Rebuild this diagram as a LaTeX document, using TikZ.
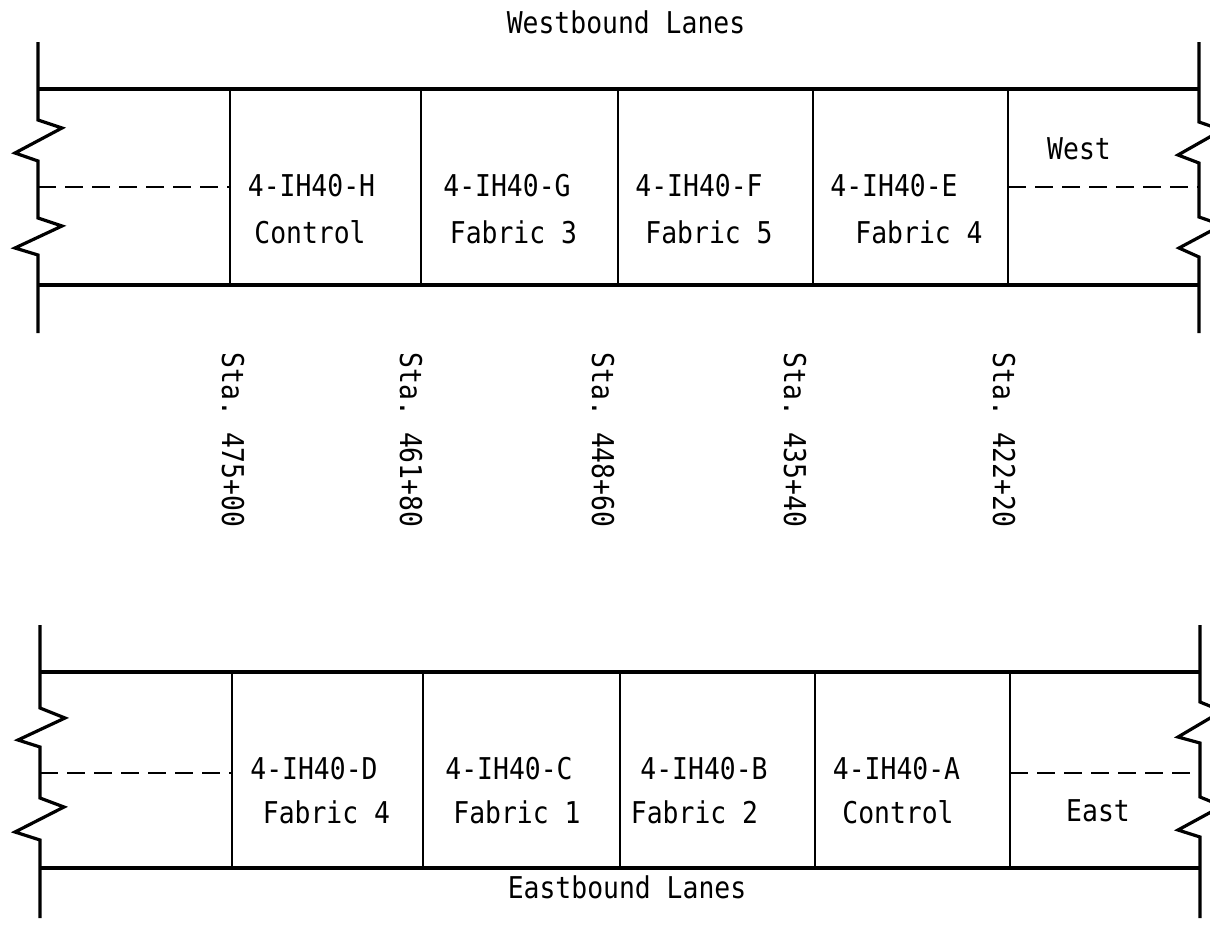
\documentclass[tikz,border=0pt]{standalone}
\usepackage{fontspec}
\setmonofont[FakeStretch=0.88]{DejaVu Sans Mono}
\begin{document}
\begin{tikzpicture}[x=1pt,y=-1pt,
  lbl/.style={font=\ttfamily\fontsize{30}{33}\selectfont, inner sep=0pt, anchor=center},
  sta/.style={lbl, rotate=-90},
  road/.style={line width=4.4pt},
  edge/.style={line width=3.2pt, line join=miter},
  divider/.style={line width=2.9pt},
  centre/.style={line width=2.9pt, dash pattern=on 18pt off 9pt}]
\useasboundingbox (0,0) rectangle (1210,932);
\clip (0,0) rectangle (1210,932);
\fill[white] (0,0) rectangle (1210,932);

% ---------- Westbound ----------
\coordinate (wtl) at (38,89);  \coordinate (wtr) at (1199,89);
\coordinate (wbl) at (38,285); \coordinate (wbr) at (1199,285);
\draw[road] (wtl) -- (wtr);
\draw[road] (wbl) -- (wbr);
\draw[edge] (38,42) -- (38,120) -- (62,128) -- (15,153) -- (38,161) -- (38,218) -- (62,226) -- (15,248) -- (38,255) -- (38,333);
\draw[edge] (1199,42) -- (1199,122) -- (1222,130) -- (1178,155) -- (1199,163) -- (1199,217) -- (1222,225) -- (1179,248) -- (1199,257) -- (1199,333);
\foreach \x/\n in {230/w1,421/w2,618/w3,813/w4,1008/w5}{
  \coordinate (\n t) at (\x,89); \coordinate (\n b) at (\x,285);
  \draw[divider] (\n t) -- (\n b);
}
\coordinate (wcl) at (38,187); \coordinate (wcr) at (1199,187);
\draw[centre] (wcl) -- (230,187);
\draw[centre] (1008,187) -- (wcr);

\node[lbl] (wtitle) at (626,22) {Westbound Lanes};
\node[lbl] (h1) at (311.5,186) {4-IH40-H};
\node[lbl] (h2) at (310,232) {Control};
\node[lbl] (g1) at (507,186) {4-IH40-G};
\node[lbl] (g2) at (513.5,232) {Fabric 3};
\node[lbl] (f1) at (699,186) {4-IH40-F};
\node[lbl] (f2) at (709,232) {Fabric 5};
\node[lbl] (e1) at (894,186) {4-IH40-E};
\node[lbl] (e2) at (919,232) {Fabric 4};
\node[lbl] (west) at (1079,149) {West};

% ---------- Stations ----------
\node[sta] (s1) at (233,440) {Sta. 475+00};
\node[sta] (s2) at (411,440) {Sta. 461+80};
\node[sta] (s3) at (603,440) {Sta. 448+60};
\node[sta] (s4) at (795,440) {Sta. 435+40};
\node[sta] (s5) at (1004,440) {Sta. 422+20};

% ---------- Eastbound ----------
\coordinate (etl) at (40,672);  \coordinate (etr) at (1200,672);
\coordinate (ebl) at (40,868);  \coordinate (ebr) at (1200,868);
\draw[road] (etl) -- (etr);
\draw[road] (ebl) -- (ebr);
\draw[edge] (40,625) -- (40,708) -- (65,718) -- (18,740) -- (40,747) -- (40,798) -- (64,807) -- (15,832) -- (40,840) -- (40,918);
\draw[edge] (1200,625) -- (1200,702) -- (1222,711) -- (1178,737) -- (1200,743) -- (1200,797) -- (1222,806) -- (1178,830) -- (1200,837) -- (1200,918);
\foreach \x/\n in {232/e1,423/e2,620/e3,815/e4,1010/e5}{
  \coordinate (\n t) at (\x,672); \coordinate (\n b) at (\x,868);
  \draw[divider] (\n t) -- (\n b);
}
\coordinate (ecl) at (40,773); \coordinate (ecr) at (1200,773);
\draw[centre] (ecl) -- (232,773);
\draw[centre] (1010,773) -- (ecr);

\node[lbl] (d1) at (314,769) {4-IH40-D};
\node[lbl] (d2) at (326.5,812) {Fabric 4};
\node[lbl] (c1) at (509,769) {4-IH40-C};
\node[lbl] (c2) at (517,812) {Fabric 1};
\node[lbl] (b1) at (704,769) {4-IH40-B};
\node[lbl] (b2) at (694.5,812) {Fabric 2};
\node[lbl] (a1) at (896.5,769) {4-IH40-A};
\node[lbl] (a2) at (898,812) {Control};
\node[lbl] (east) at (1098,811) {East};
\node[lbl] (etitle) at (627,887) {Eastbound Lanes};
\end{tikzpicture}
\end{document}
